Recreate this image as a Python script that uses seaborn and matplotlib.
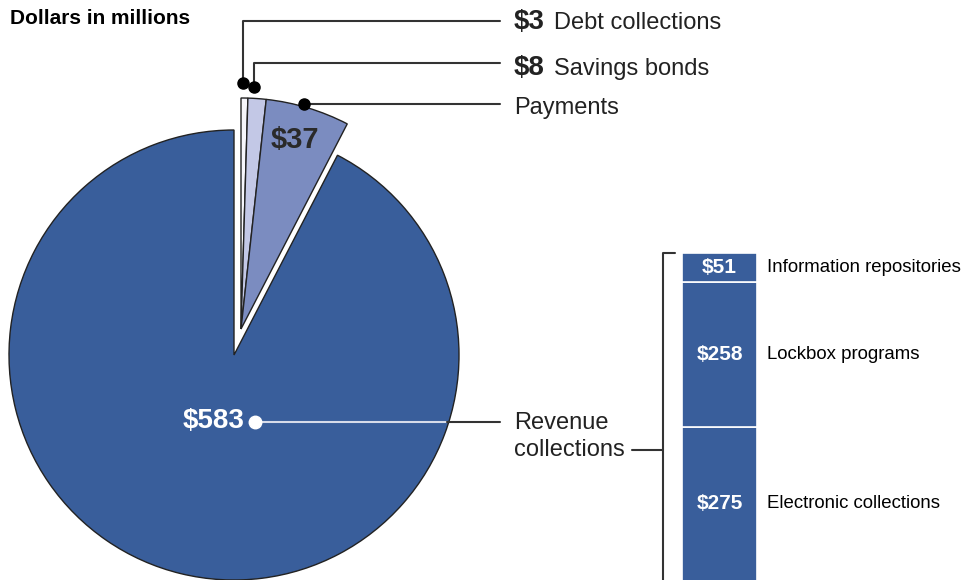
import matplotlib
matplotlib.use("Agg")
import matplotlib.pyplot as plt
import seaborn as sns

# pie: dollars in millions
pie_labels = ["Debt collections", "Savings bonds", "Payments", "Revenue collections"]
pie_values = [3, 8, 37, 583]
pie_colors = ["#f6f6fb", "#c3c8e6", "#7b8cc0", "#395e9b"]

# stacked bar: breakdown of revenue collections (bottom to top)
bar_labels = ["Electronic collections", "Lockbox programs", "Information repositories"]
bar_values = [275, 258, 51]
bar_color = "#395e9b"

sns.set_theme(style="white")
plt.rcParams["font.family"] = ["Liberation Sans", "DejaVu Sans"]

W, H = 978, 580
fig = plt.figure(figsize=(W / 100, H / 100), dpi=100)
ax = fig.add_axes([0, 0, 1, 1])


def Y(py):
    return H - py


dark = "#222222"

# big slice
big, _ = ax.pie(pie_values, colors=pie_colors, startangle=90, counterclock=False,
                center=(234, Y(355)), radius=225,
                wedgeprops=dict(edgecolor=dark, linewidth=1))
for w in big[:3]:
    w.set_visible(False)

# small slices, pulled out
small, _ = ax.pie(pie_values, colors=pie_colors, startangle=90, counterclock=False,
                  center=(241, Y(329)), radius=231,
                  wedgeprops=dict(edgecolor=dark, linewidth=1))
small[3].set_visible(False)

ax.set_xlim(0, W)
ax.set_ylim(0, H)
ax.set_aspect("auto")
ax.axis("off")

# title
ax.text(10, Y(19), "Dollars in millions", fontsize=15, fontweight="bold",
        color="black", va="center", ha="left")

lc = "#333333"
lw = 1.5
# debt collections leader
ax.plot([243, 243, 500], [Y(83), Y(21), Y(21)], color=lc, lw=lw)
ax.plot([243], [Y(83)], "o", color="black", ms=8)
# savings bonds leader
ax.plot([254, 254, 500], [Y(87), Y(63), Y(63)], color=lc, lw=lw)
ax.plot([254], [Y(87)], "o", color="black", ms=8)
# payments leader
ax.plot([304, 500], [Y(104), Y(104)], color=lc, lw=lw)
ax.plot([304], [Y(104)], "o", color="black", ms=8)

ax.text(514, Y(22), f"${pie_values[0]}", fontsize=20, fontweight="bold",
        color=dark, va="center", ha="left")
ax.text(554, Y(23), pie_labels[0], fontsize=17, color=dark, va="center", ha="left")
ax.text(514, Y(68), f"${pie_values[1]}", fontsize=20, fontweight="bold",
        color=dark, va="center", ha="left")
ax.text(554, Y(69), pie_labels[1], fontsize=17, color=dark, va="center", ha="left")
ax.text(514, Y(108), pie_labels[2], fontsize=17, color=dark, va="center", ha="left")

ax.text(295, Y(140), f"${pie_values[2]}", fontsize=21, fontweight="bold",
        color="#2a2a2a", va="center", ha="center")

# revenue collections
ax.plot([255, 447], [Y(422), Y(422)], color="#d7dcea", lw=lw)
ax.plot([447, 500], [Y(422), Y(422)], color=lc, lw=lw)
ax.plot([255], [Y(422)], "o", color="white", ms=9)
ax.text(244, Y(421), f"${pie_values[3]}", fontsize=20, fontweight="bold",
        color="white", va="center", ha="right")
ax.text(514, Y(423), "Revenue", fontsize=17, color=dark, va="center", ha="left")
ax.text(514, Y(450), "collections", fontsize=17, color=dark, va="center", ha="left")

# bracket
ax.plot([632, 663], [Y(450), Y(450)], color=lc, lw=lw)
ax.plot([675, 663, 663], [Y(253), Y(253), Y(585)], color=lc, lw=lw)

# stacked bar
total = sum(bar_values)
ax2 = fig.add_axes([682 / W, -1 / H, 75 / W, 328 / H])
bottom = 0
for val, lab in zip(bar_values, bar_labels):
    ax2.bar(0, val, bottom=bottom, width=1, color=bar_color,
            edgecolor="white", linewidth=1.2)
    mid = bottom + val / 2
    ax2.text(0, mid, f"${val}", fontsize=15, fontweight="bold", color="white",
             ha="center", va="center")
    ax2.text(0.633, mid, lab, fontsize=13.4, color="black", ha="left",
             va="center", clip_on=False)
    bottom += val
ax2.set_xlim(-0.5, 0.5)
ax2.set_ylim(0, total)
ax2.axis("off")

fig.savefig("out.png", dpi=100)
